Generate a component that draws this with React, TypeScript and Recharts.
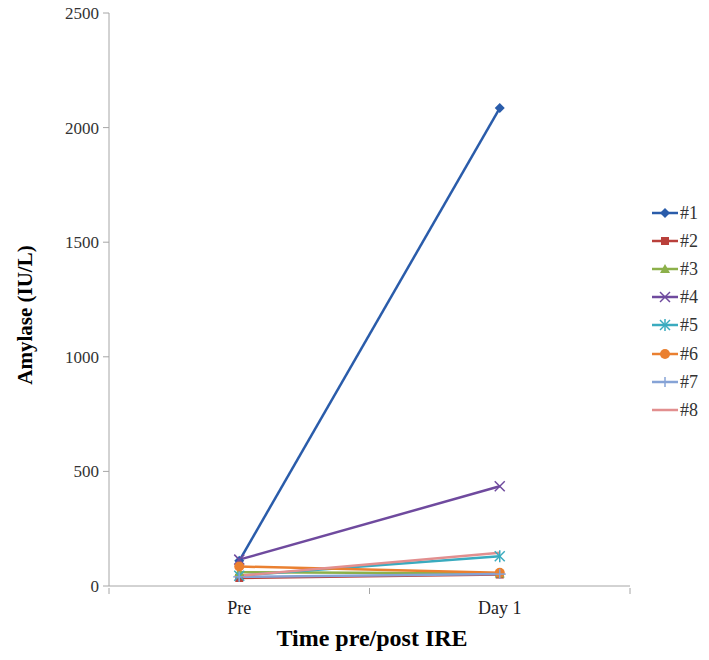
import React from "react";
import { LineChart, Line, XAxis, YAxis } from "recharts";

const categories = ["Pre", "Day 1"];
const seriesNames = ["#1", "#2", "#3", "#4", "#5", "#6", "#7", "#8"];
const s1 = [110, 2085];
const s2 = [35, 50];
const s3 = [60, 55];
const s4 = [115, 435];
const s5 = [45, 130];
const s6 = [85, 58];
const s7 = [40, 52];
const s8 = [45, 145];
const yTicks = [0, 500, 1000, 1500, 2000, 2500];

const allSeries = [s1, s2, s3, s4, s5, s6, s7, s8];

const COLORS = [
  "#2a5caa", // #1 blue
  "#b9403b", // #2 red
  "#8cb04a", // #3 green
  "#6f4a9e", // #4 purple
  "#3aabbf", // #5 teal
  "#ea8030", // #6 orange
  "#86a3d6", // #7 light blue
  "#e28f8f", // #8 pink
];
const SHAPES = ["diamond", "square", "triangle", "x", "star", "circle", "plus", "none"];

const data = categories.map((c, i) => {
  const row: any = { x: i + 0.5, label: c };
  allSeries.forEach((s, k) => {
    row[`s${k + 1}`] = s[i];
  });
  return row;
});

const SERIF = "Liberation Serif";
const AXIS = "#a6a6a6";

const Marker = ({ shape, cx, cy, color }: any) => {
  if (cx == null || cy == null) return null;
  switch (shape) {
    case "diamond":
      return <polygon points={`${cx},${cy - 5} ${cx + 5},${cy} ${cx},${cy + 5} ${cx - 5},${cy}`} fill={color} />;
    case "square":
      return <rect x={cx - 4} y={cy - 4} width={8} height={8} fill={color} />;
    case "triangle":
      return <polygon points={`${cx},${cy - 5} ${cx + 5},${cy + 4} ${cx - 5},${cy + 4}`} fill={color} />;
    case "x":
      return (
        <g stroke={color} strokeWidth={1.5}>
          <line x1={cx - 5} y1={cy - 5} x2={cx + 5} y2={cy + 5} />
          <line x1={cx - 5} y1={cy + 5} x2={cx + 5} y2={cy - 5} />
        </g>
      );
    case "star":
      return (
        <g stroke={color} strokeWidth={1.5}>
          <line x1={cx - 5} y1={cy - 5} x2={cx + 5} y2={cy + 5} />
          <line x1={cx - 5} y1={cy + 5} x2={cx + 5} y2={cy - 5} />
          <line x1={cx} y1={cy - 6} x2={cx} y2={cy + 6} />
        </g>
      );
    case "circle":
      return <circle cx={cx} cy={cy} r={5} fill={color} />;
    case "plus":
      return (
        <g stroke={color} strokeWidth={1.5}>
          <line x1={cx - 6} y1={cy} x2={cx + 6} y2={cy} />
          <line x1={cx} y1={cy - 5} x2={cx} y2={cy + 5} />
        </g>
      );
    default:
      return null;
  }
};

const XTick = ({ x, y, payload }: any) => {
  const v = payload.value;
  if (Number.isInteger(v)) {
    return <line x1={x} x2={x} y1={y} y2={y + 6} stroke={AXIS} />;
  }
  return (
    <text x={x} y={y + 26} textAnchor="middle" style={{ fontFamily: SERIF, fontSize: 18 }} fill="#222">
      {categories[Math.floor(v)]}
    </text>
  );
};

const YTick = ({ x, y, payload }: any) => (
  <text x={x} y={y} dy={6} textAnchor="end" style={{ fontFamily: SERIF, fontSize: 17 }} fill="#333">
    {payload.value}
  </text>
);

export default function App() {
  return (
    <div style={{ position: "relative", width: 709, height: 660, margin: -8, background: "#fff", fontFamily: SERIF }}>
      <LineChart
        width={709}
        height={660}
        data={data}
        margin={{ top: 13, right: 79, left: 49, bottom: 44 }}
      >
        <XAxis
          type="number"
          dataKey="x"
          domain={[0, 2]}
          ticks={[0, 0.5, 1, 1.5, 2]}
          interval={0}
          height={30}
          tick={<XTick />}
          tickLine={false}
          tickSize={0}
          axisLine={{ stroke: AXIS }}
        />
        <YAxis
          type="number"
          domain={[0, 2500]}
          ticks={yTicks}
          interval={0}
          width={60}
          tickSize={6}
          tickMargin={4}
          tickLine={{ stroke: AXIS }}
          axisLine={{ stroke: AXIS }}
          tick={<YTick />}
        />
        {seriesNames.map((name, k) => (
          <Line
            key={name}
            name={name}
            dataKey={`s${k + 1}`}
            stroke={COLORS[k]}
            strokeWidth={2.5}
            isAnimationActive={false}
            dot={(p: any) => (
              <Marker key={`${name}-${p.index}`} shape={SHAPES[k]} cx={p.cx} cy={p.cy} color={COLORS[k]} />
            )}
            activeDot={false}
          />
        ))}
      </LineChart>

      <div
        style={{
          position: "absolute",
          left: 25,
          top: 315,
          transform: "translate(-50%, -50%) rotate(-90deg)",
          fontFamily: SERIF,
          fontWeight: "bold",
          fontSize: 21,
          whiteSpace: "nowrap",
          color: "#000",
        }}
      >
        Amylase (IU/L)
      </div>
      <div
        style={{
          position: "absolute",
          left: 372,
          top: 638,
          transform: "translate(-50%, -50%)",
          fontFamily: SERIF,
          fontWeight: "bold",
          fontSize: 24,
          whiteSpace: "nowrap",
          color: "#000",
        }}
      >
        Time pre/post IRE
      </div>

      <div style={{ position: "absolute", left: 650, top: 199 }}>
        {seriesNames.map((name, k) => (
          <div key={name} style={{ display: "flex", alignItems: "center", height: 28.1 }}>
            <svg width={30} height={14}>
              <line x1={2} x2={28} y1={7} y2={7} stroke={COLORS[k]} strokeWidth={2.5} />
              <Marker shape={SHAPES[k]} cx={15} cy={7} color={COLORS[k]} />
            </svg>
            <span style={{ fontFamily: SERIF, fontSize: 18, color: "#333", lineHeight: "18px" }}>{name}</span>
          </div>
        ))}
      </div>
    </div>
  );
}
